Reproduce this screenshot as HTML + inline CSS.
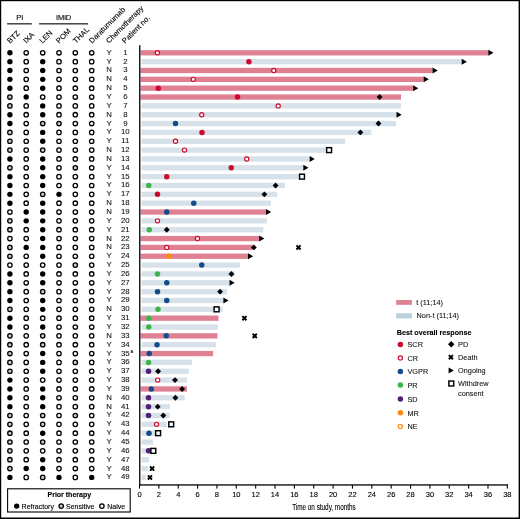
<!DOCTYPE html>
<html><head><meta charset="utf-8"><style>
html,body{margin:0;padding:0;background:#fff;}
svg{display:block;will-change:transform;}
text{font-family:"Liberation Sans", sans-serif;fill:#000;stroke:#000;stroke-width:0.12px;}
text.lt{fill:#111;stroke:#111;stroke-width:0.08px;}
</style></head><body>
<svg width="520" height="519" viewBox="0 0 520 519">
<rect width="520" height="519" fill="#fff"/>
<rect x="0" y="0" width="520" height="1.2" fill="#000"/>
<rect x="0" y="0" width="1.2" height="519" fill="#000"/>
<rect x="518.6" y="0" width="1.4" height="519" fill="#000"/>
<rect x="0" y="517.5" width="520" height="1.5" fill="#000"/>
<text x="19.90" y="20.40" font-size="7.5" text-anchor="middle" font-weight="normal" >PI</text>
<text x="63.60" y="20.40" font-size="7.5" text-anchor="middle" font-weight="normal" >IMiD</text>
<rect x="7.1" y="23.3" width="24.7" height="1.1" fill="#000"/>
<rect x="39.1" y="23.3" width="48.9" height="1.1" fill="#000"/>
<text x="0" y="0" font-size="7.5" transform="translate(10.10,43.7) rotate(-45)">BTZ</text>
<text x="0" y="0" font-size="7.5" transform="translate(26.30,43.7) rotate(-45)">IXA</text>
<text x="0" y="0" font-size="7.5" transform="translate(42.50,43.7) rotate(-45)">LEN</text>
<text x="0" y="0" font-size="7.5" transform="translate(59.10,43.7) rotate(-45)">POM</text>
<text x="0" y="0" font-size="7.5" transform="translate(76.10,43.7) rotate(-45)">THAL</text>
<text x="0" y="0" font-size="7.5" transform="translate(92.10,43.7) rotate(-45)">Daratumumab</text>
<text x="0" y="0" font-size="7.5" transform="translate(109.10,43.7) rotate(-45)">Chemotherapy</text>
<text x="0" y="0" font-size="7.5" transform="translate(125.10,43.7) rotate(-45)">Patient no.</text>
<circle cx="9.90" cy="52.80" r="2.7" fill="#000"/>
<circle cx="26.20" cy="52.80" r="2.2" fill="#fff" stroke="#000" stroke-width="1.3"/>
<circle cx="42.70" cy="52.80" r="2.2" fill="#fff" stroke="#000" stroke-width="1.3"/>
<circle cx="59.00" cy="52.80" r="2.2" fill="#fff" stroke="#000" stroke-width="1.3"/>
<circle cx="75.30" cy="52.80" r="2.2" fill="#fff" stroke="#000" stroke-width="1.3"/>
<circle cx="91.70" cy="52.80" r="2.2" fill="#fff" stroke="#000" stroke-width="1.3"/>
<text x="109.00" y="54.80" font-size="7.8" text-anchor="middle" font-weight="normal" class="lt">Y</text>
<text x="125.30" y="54.80" font-size="7.8" text-anchor="middle" font-weight="normal" class="lt">1</text>
<circle cx="9.90" cy="61.65" r="2.7" fill="#000"/>
<circle cx="26.20" cy="61.65" r="2.2" fill="#fff" stroke="#000" stroke-width="1.3"/>
<circle cx="42.70" cy="61.65" r="2.7" fill="#000"/>
<circle cx="59.00" cy="61.65" r="2.2" fill="#fff" stroke="#000" stroke-width="1.3"/>
<circle cx="75.30" cy="61.65" r="2.2" fill="#fff" stroke="#000" stroke-width="1.3"/>
<circle cx="91.70" cy="61.65" r="2.2" fill="#fff" stroke="#000" stroke-width="1.3"/>
<text x="109.00" y="63.65" font-size="7.8" text-anchor="middle" font-weight="normal" class="lt">Y</text>
<text x="125.30" y="63.65" font-size="7.8" text-anchor="middle" font-weight="normal" class="lt">2</text>
<circle cx="9.90" cy="70.49" r="2.7" fill="#000"/>
<circle cx="26.20" cy="70.49" r="2.2" fill="#fff" stroke="#000" stroke-width="1.3"/>
<circle cx="42.70" cy="70.49" r="2.7" fill="#000"/>
<circle cx="59.00" cy="70.49" r="2.2" fill="#fff" stroke="#000" stroke-width="1.3"/>
<circle cx="75.30" cy="70.49" r="2.2" fill="#fff" stroke="#000" stroke-width="1.3"/>
<circle cx="91.70" cy="70.49" r="2.2" fill="#fff" stroke="#000" stroke-width="1.3"/>
<text x="109.00" y="72.49" font-size="7.8" text-anchor="middle" font-weight="normal" class="lt">N</text>
<text x="125.30" y="72.49" font-size="7.8" text-anchor="middle" font-weight="normal" class="lt">3</text>
<circle cx="9.90" cy="79.34" r="2.7" fill="#000"/>
<circle cx="26.20" cy="79.34" r="2.2" fill="#fff" stroke="#000" stroke-width="1.3"/>
<circle cx="42.70" cy="79.34" r="2.7" fill="#000"/>
<circle cx="59.00" cy="79.34" r="2.2" fill="#fff" stroke="#000" stroke-width="1.3"/>
<circle cx="75.30" cy="79.34" r="2.2" fill="#fff" stroke="#000" stroke-width="1.3"/>
<circle cx="91.70" cy="79.34" r="2.2" fill="#fff" stroke="#000" stroke-width="1.3"/>
<text x="109.00" y="81.34" font-size="7.8" text-anchor="middle" font-weight="normal" class="lt">N</text>
<text x="125.30" y="81.34" font-size="7.8" text-anchor="middle" font-weight="normal" class="lt">4</text>
<circle cx="9.90" cy="88.18" r="2.7" fill="#000"/>
<circle cx="26.20" cy="88.18" r="2.2" fill="#fff" stroke="#000" stroke-width="1.3"/>
<circle cx="42.70" cy="88.18" r="2.7" fill="#000"/>
<circle cx="59.00" cy="88.18" r="2.2" fill="#fff" stroke="#000" stroke-width="1.3"/>
<circle cx="75.30" cy="88.18" r="2.2" fill="#fff" stroke="#000" stroke-width="1.3"/>
<circle cx="91.70" cy="88.18" r="2.2" fill="#fff" stroke="#000" stroke-width="1.3"/>
<text x="109.00" y="90.18" font-size="7.8" text-anchor="middle" font-weight="normal" class="lt">N</text>
<text x="125.30" y="90.18" font-size="7.8" text-anchor="middle" font-weight="normal" class="lt">5</text>
<circle cx="9.90" cy="97.03" r="2.2" fill="#c9c9cf" stroke="#000" stroke-width="1.3"/>
<circle cx="26.20" cy="97.03" r="2.7" fill="#000"/>
<circle cx="42.70" cy="97.03" r="2.2" fill="#fff" stroke="#000" stroke-width="1.3"/>
<circle cx="59.00" cy="97.03" r="2.2" fill="#fff" stroke="#000" stroke-width="1.3"/>
<circle cx="75.30" cy="97.03" r="2.2" fill="#fff" stroke="#000" stroke-width="1.3"/>
<circle cx="91.70" cy="97.03" r="2.2" fill="#fff" stroke="#000" stroke-width="1.3"/>
<text x="109.00" y="99.03" font-size="7.8" text-anchor="middle" font-weight="normal" class="lt">Y</text>
<text x="125.30" y="99.03" font-size="7.8" text-anchor="middle" font-weight="normal" class="lt">6</text>
<circle cx="9.90" cy="105.88" r="2.2" fill="#c9c9cf" stroke="#000" stroke-width="1.3"/>
<circle cx="26.20" cy="105.88" r="2.2" fill="#fff" stroke="#000" stroke-width="1.3"/>
<circle cx="42.70" cy="105.88" r="2.7" fill="#000"/>
<circle cx="59.00" cy="105.88" r="2.2" fill="#fff" stroke="#000" stroke-width="1.3"/>
<circle cx="75.30" cy="105.88" r="2.2" fill="#fff" stroke="#000" stroke-width="1.3"/>
<circle cx="91.70" cy="105.88" r="2.2" fill="#fff" stroke="#000" stroke-width="1.3"/>
<text x="109.00" y="107.88" font-size="7.8" text-anchor="middle" font-weight="normal" class="lt">Y</text>
<text x="125.30" y="107.88" font-size="7.8" text-anchor="middle" font-weight="normal" class="lt">7</text>
<circle cx="9.90" cy="114.72" r="2.7" fill="#000"/>
<circle cx="26.20" cy="114.72" r="2.2" fill="#fff" stroke="#000" stroke-width="1.3"/>
<circle cx="42.70" cy="114.72" r="2.7" fill="#000"/>
<circle cx="59.00" cy="114.72" r="2.2" fill="#fff" stroke="#000" stroke-width="1.3"/>
<circle cx="75.30" cy="114.72" r="2.2" fill="#fff" stroke="#000" stroke-width="1.3"/>
<circle cx="91.70" cy="114.72" r="2.2" fill="#fff" stroke="#000" stroke-width="1.3"/>
<text x="109.00" y="116.72" font-size="7.8" text-anchor="middle" font-weight="normal" class="lt">N</text>
<text x="125.30" y="116.72" font-size="7.8" text-anchor="middle" font-weight="normal" class="lt">8</text>
<circle cx="9.90" cy="123.57" r="2.7" fill="#000"/>
<circle cx="26.20" cy="123.57" r="2.2" fill="#fff" stroke="#000" stroke-width="1.3"/>
<circle cx="42.70" cy="123.57" r="2.2" fill="#c9c9cf" stroke="#000" stroke-width="1.3"/>
<circle cx="59.00" cy="123.57" r="2.2" fill="#c9c9cf" stroke="#000" stroke-width="1.3"/>
<circle cx="75.30" cy="123.57" r="2.2" fill="#fff" stroke="#000" stroke-width="1.3"/>
<circle cx="91.70" cy="123.57" r="2.2" fill="#fff" stroke="#000" stroke-width="1.3"/>
<text x="109.00" y="125.57" font-size="7.8" text-anchor="middle" font-weight="normal" class="lt">Y</text>
<text x="125.30" y="125.57" font-size="7.8" text-anchor="middle" font-weight="normal" class="lt">9</text>
<circle cx="9.90" cy="132.41" r="2.2" fill="#c9c9cf" stroke="#000" stroke-width="1.3"/>
<circle cx="26.20" cy="132.41" r="2.2" fill="#fff" stroke="#000" stroke-width="1.3"/>
<circle cx="42.70" cy="132.41" r="2.7" fill="#000"/>
<circle cx="59.00" cy="132.41" r="2.2" fill="#fff" stroke="#000" stroke-width="1.3"/>
<circle cx="75.30" cy="132.41" r="2.2" fill="#fff" stroke="#000" stroke-width="1.3"/>
<circle cx="91.70" cy="132.41" r="2.2" fill="#fff" stroke="#000" stroke-width="1.3"/>
<text x="109.00" y="134.41" font-size="7.8" text-anchor="middle" font-weight="normal" class="lt">Y</text>
<text x="125.30" y="134.41" font-size="7.8" text-anchor="middle" font-weight="normal" class="lt">10</text>
<circle cx="9.90" cy="141.26" r="2.2" fill="#c9c9cf" stroke="#000" stroke-width="1.3"/>
<circle cx="26.20" cy="141.26" r="2.2" fill="#fff" stroke="#000" stroke-width="1.3"/>
<circle cx="42.70" cy="141.26" r="2.7" fill="#000"/>
<circle cx="59.00" cy="141.26" r="2.2" fill="#fff" stroke="#000" stroke-width="1.3"/>
<circle cx="75.30" cy="141.26" r="2.2" fill="#fff" stroke="#000" stroke-width="1.3"/>
<circle cx="91.70" cy="141.26" r="2.2" fill="#fff" stroke="#000" stroke-width="1.3"/>
<text x="109.00" y="143.26" font-size="7.8" text-anchor="middle" font-weight="normal" class="lt">Y</text>
<text x="125.30" y="143.26" font-size="7.8" text-anchor="middle" font-weight="normal" class="lt">11</text>
<circle cx="9.90" cy="150.11" r="2.2" fill="#c9c9cf" stroke="#000" stroke-width="1.3"/>
<circle cx="26.20" cy="150.11" r="2.2" fill="#fff" stroke="#000" stroke-width="1.3"/>
<circle cx="42.70" cy="150.11" r="2.2" fill="#c9c9cf" stroke="#000" stroke-width="1.3"/>
<circle cx="59.00" cy="150.11" r="2.2" fill="#fff" stroke="#000" stroke-width="1.3"/>
<circle cx="75.30" cy="150.11" r="2.2" fill="#fff" stroke="#000" stroke-width="1.3"/>
<circle cx="91.70" cy="150.11" r="2.2" fill="#fff" stroke="#000" stroke-width="1.3"/>
<text x="109.00" y="152.11" font-size="7.8" text-anchor="middle" font-weight="normal" class="lt">N</text>
<text x="125.30" y="152.11" font-size="7.8" text-anchor="middle" font-weight="normal" class="lt">12</text>
<circle cx="9.90" cy="158.95" r="2.7" fill="#000"/>
<circle cx="26.20" cy="158.95" r="2.2" fill="#fff" stroke="#000" stroke-width="1.3"/>
<circle cx="42.70" cy="158.95" r="2.7" fill="#000"/>
<circle cx="59.00" cy="158.95" r="2.2" fill="#fff" stroke="#000" stroke-width="1.3"/>
<circle cx="75.30" cy="158.95" r="2.2" fill="#fff" stroke="#000" stroke-width="1.3"/>
<circle cx="91.70" cy="158.95" r="2.2" fill="#fff" stroke="#000" stroke-width="1.3"/>
<text x="109.00" y="160.95" font-size="7.8" text-anchor="middle" font-weight="normal" class="lt">N</text>
<text x="125.30" y="160.95" font-size="7.8" text-anchor="middle" font-weight="normal" class="lt">13</text>
<circle cx="9.90" cy="167.80" r="2.2" fill="#c9c9cf" stroke="#000" stroke-width="1.3"/>
<circle cx="26.20" cy="167.80" r="2.2" fill="#fff" stroke="#000" stroke-width="1.3"/>
<circle cx="42.70" cy="167.80" r="2.7" fill="#000"/>
<circle cx="59.00" cy="167.80" r="2.2" fill="#fff" stroke="#000" stroke-width="1.3"/>
<circle cx="75.30" cy="167.80" r="2.2" fill="#c9c9cf" stroke="#000" stroke-width="1.3"/>
<circle cx="91.70" cy="167.80" r="2.2" fill="#fff" stroke="#000" stroke-width="1.3"/>
<text x="109.00" y="169.80" font-size="7.8" text-anchor="middle" font-weight="normal" class="lt">Y</text>
<text x="125.30" y="169.80" font-size="7.8" text-anchor="middle" font-weight="normal" class="lt">14</text>
<circle cx="9.90" cy="176.64" r="2.7" fill="#000"/>
<circle cx="26.20" cy="176.64" r="2.2" fill="#fff" stroke="#000" stroke-width="1.3"/>
<circle cx="42.70" cy="176.64" r="2.7" fill="#000"/>
<circle cx="59.00" cy="176.64" r="2.2" fill="#fff" stroke="#000" stroke-width="1.3"/>
<circle cx="75.30" cy="176.64" r="2.2" fill="#fff" stroke="#000" stroke-width="1.3"/>
<circle cx="91.70" cy="176.64" r="2.2" fill="#fff" stroke="#000" stroke-width="1.3"/>
<text x="109.00" y="178.64" font-size="7.8" text-anchor="middle" font-weight="normal" class="lt">Y</text>
<text x="125.30" y="178.64" font-size="7.8" text-anchor="middle" font-weight="normal" class="lt">15</text>
<circle cx="9.90" cy="185.49" r="2.7" fill="#000"/>
<circle cx="26.20" cy="185.49" r="2.2" fill="#fff" stroke="#000" stroke-width="1.3"/>
<circle cx="42.70" cy="185.49" r="2.7" fill="#000"/>
<circle cx="59.00" cy="185.49" r="2.2" fill="#fff" stroke="#000" stroke-width="1.3"/>
<circle cx="75.30" cy="185.49" r="2.2" fill="#fff" stroke="#000" stroke-width="1.3"/>
<circle cx="91.70" cy="185.49" r="2.2" fill="#fff" stroke="#000" stroke-width="1.3"/>
<text x="109.00" y="187.49" font-size="7.8" text-anchor="middle" font-weight="normal" class="lt">Y</text>
<text x="125.30" y="187.49" font-size="7.8" text-anchor="middle" font-weight="normal" class="lt">16</text>
<circle cx="9.90" cy="194.34" r="2.7" fill="#000"/>
<circle cx="26.20" cy="194.34" r="2.2" fill="#fff" stroke="#000" stroke-width="1.3"/>
<circle cx="42.70" cy="194.34" r="2.2" fill="#c9c9cf" stroke="#000" stroke-width="1.3"/>
<circle cx="59.00" cy="194.34" r="2.7" fill="#000"/>
<circle cx="75.30" cy="194.34" r="2.2" fill="#fff" stroke="#000" stroke-width="1.3"/>
<circle cx="91.70" cy="194.34" r="2.2" fill="#fff" stroke="#000" stroke-width="1.3"/>
<text x="109.00" y="196.34" font-size="7.8" text-anchor="middle" font-weight="normal" class="lt">Y</text>
<text x="125.30" y="196.34" font-size="7.8" text-anchor="middle" font-weight="normal" class="lt">17</text>
<circle cx="9.90" cy="203.18" r="2.7" fill="#000"/>
<circle cx="26.20" cy="203.18" r="2.2" fill="#fff" stroke="#000" stroke-width="1.3"/>
<circle cx="42.70" cy="203.18" r="2.7" fill="#000"/>
<circle cx="59.00" cy="203.18" r="2.2" fill="#fff" stroke="#000" stroke-width="1.3"/>
<circle cx="75.30" cy="203.18" r="2.2" fill="#fff" stroke="#000" stroke-width="1.3"/>
<circle cx="91.70" cy="203.18" r="2.2" fill="#fff" stroke="#000" stroke-width="1.3"/>
<text x="109.00" y="205.18" font-size="7.8" text-anchor="middle" font-weight="normal" class="lt">N</text>
<text x="125.30" y="205.18" font-size="7.8" text-anchor="middle" font-weight="normal" class="lt">18</text>
<circle cx="9.90" cy="212.03" r="2.2" fill="#fff" stroke="#000" stroke-width="1.3"/>
<circle cx="26.20" cy="212.03" r="2.7" fill="#000"/>
<circle cx="42.70" cy="212.03" r="2.7" fill="#000"/>
<circle cx="59.00" cy="212.03" r="2.2" fill="#fff" stroke="#000" stroke-width="1.3"/>
<circle cx="75.30" cy="212.03" r="2.2" fill="#fff" stroke="#000" stroke-width="1.3"/>
<circle cx="91.70" cy="212.03" r="2.2" fill="#fff" stroke="#000" stroke-width="1.3"/>
<text x="109.00" y="214.03" font-size="7.8" text-anchor="middle" font-weight="normal" class="lt">N</text>
<text x="125.30" y="214.03" font-size="7.8" text-anchor="middle" font-weight="normal" class="lt">19</text>
<circle cx="9.90" cy="220.87" r="2.2" fill="#c9c9cf" stroke="#000" stroke-width="1.3"/>
<circle cx="26.20" cy="220.87" r="2.7" fill="#000"/>
<circle cx="42.70" cy="220.87" r="2.7" fill="#000"/>
<circle cx="59.00" cy="220.87" r="2.2" fill="#fff" stroke="#000" stroke-width="1.3"/>
<circle cx="75.30" cy="220.87" r="2.2" fill="#fff" stroke="#000" stroke-width="1.3"/>
<circle cx="91.70" cy="220.87" r="2.2" fill="#fff" stroke="#000" stroke-width="1.3"/>
<text x="109.00" y="222.87" font-size="7.8" text-anchor="middle" font-weight="normal" class="lt">Y</text>
<text x="125.30" y="222.87" font-size="7.8" text-anchor="middle" font-weight="normal" class="lt">20</text>
<circle cx="9.90" cy="229.72" r="2.2" fill="#c9c9cf" stroke="#000" stroke-width="1.3"/>
<circle cx="26.20" cy="229.72" r="2.2" fill="#fff" stroke="#000" stroke-width="1.3"/>
<circle cx="42.70" cy="229.72" r="2.7" fill="#000"/>
<circle cx="59.00" cy="229.72" r="2.2" fill="#fff" stroke="#000" stroke-width="1.3"/>
<circle cx="75.30" cy="229.72" r="2.2" fill="#fff" stroke="#000" stroke-width="1.3"/>
<circle cx="91.70" cy="229.72" r="2.2" fill="#fff" stroke="#000" stroke-width="1.3"/>
<text x="109.00" y="231.72" font-size="7.8" text-anchor="middle" font-weight="normal" class="lt">Y</text>
<text x="125.30" y="231.72" font-size="7.8" text-anchor="middle" font-weight="normal" class="lt">21</text>
<circle cx="9.90" cy="238.57" r="2.2" fill="#fff" stroke="#000" stroke-width="1.3"/>
<circle cx="26.20" cy="238.57" r="2.2" fill="#fff" stroke="#000" stroke-width="1.3"/>
<circle cx="42.70" cy="238.57" r="2.7" fill="#000"/>
<circle cx="59.00" cy="238.57" r="2.2" fill="#fff" stroke="#000" stroke-width="1.3"/>
<circle cx="75.30" cy="238.57" r="2.2" fill="#fff" stroke="#000" stroke-width="1.3"/>
<circle cx="91.70" cy="238.57" r="2.2" fill="#fff" stroke="#000" stroke-width="1.3"/>
<text x="109.00" y="240.57" font-size="7.8" text-anchor="middle" font-weight="normal" class="lt">N</text>
<text x="125.30" y="240.57" font-size="7.8" text-anchor="middle" font-weight="normal" class="lt">22</text>
<circle cx="9.90" cy="247.41" r="2.2" fill="#c9c9cf" stroke="#000" stroke-width="1.3"/>
<circle cx="26.20" cy="247.41" r="2.7" fill="#000"/>
<circle cx="42.70" cy="247.41" r="2.7" fill="#000"/>
<circle cx="59.00" cy="247.41" r="2.2" fill="#fff" stroke="#000" stroke-width="1.3"/>
<circle cx="75.30" cy="247.41" r="2.2" fill="#fff" stroke="#000" stroke-width="1.3"/>
<circle cx="91.70" cy="247.41" r="2.2" fill="#fff" stroke="#000" stroke-width="1.3"/>
<text x="109.00" y="249.41" font-size="7.8" text-anchor="middle" font-weight="normal" class="lt">N</text>
<text x="125.30" y="249.41" font-size="7.8" text-anchor="middle" font-weight="normal" class="lt">23</text>
<circle cx="9.90" cy="256.26" r="2.2" fill="#c9c9cf" stroke="#000" stroke-width="1.3"/>
<circle cx="26.20" cy="256.26" r="2.2" fill="#fff" stroke="#000" stroke-width="1.3"/>
<circle cx="42.70" cy="256.26" r="2.7" fill="#000"/>
<circle cx="59.00" cy="256.26" r="2.2" fill="#fff" stroke="#000" stroke-width="1.3"/>
<circle cx="75.30" cy="256.26" r="2.2" fill="#fff" stroke="#000" stroke-width="1.3"/>
<circle cx="91.70" cy="256.26" r="2.2" fill="#fff" stroke="#000" stroke-width="1.3"/>
<text x="109.00" y="258.26" font-size="7.8" text-anchor="middle" font-weight="normal" class="lt">Y</text>
<text x="125.30" y="258.26" font-size="7.8" text-anchor="middle" font-weight="normal" class="lt">24</text>
<circle cx="9.90" cy="265.10" r="2.2" fill="#fff" stroke="#000" stroke-width="1.3"/>
<circle cx="26.20" cy="265.10" r="2.2" fill="#fff" stroke="#000" stroke-width="1.3"/>
<circle cx="42.70" cy="265.10" r="2.2" fill="#fff" stroke="#000" stroke-width="1.3"/>
<circle cx="59.00" cy="265.10" r="2.2" fill="#fff" stroke="#000" stroke-width="1.3"/>
<circle cx="75.30" cy="265.10" r="2.2" fill="#c9c9cf" stroke="#000" stroke-width="1.3"/>
<circle cx="91.70" cy="265.10" r="2.2" fill="#fff" stroke="#000" stroke-width="1.3"/>
<text x="109.00" y="267.10" font-size="7.8" text-anchor="middle" font-weight="normal" class="lt">Y</text>
<text x="125.30" y="267.10" font-size="7.8" text-anchor="middle" font-weight="normal" class="lt">25</text>
<circle cx="9.90" cy="273.95" r="2.7" fill="#000"/>
<circle cx="26.20" cy="273.95" r="2.2" fill="#fff" stroke="#000" stroke-width="1.3"/>
<circle cx="42.70" cy="273.95" r="2.7" fill="#000"/>
<circle cx="59.00" cy="273.95" r="2.2" fill="#fff" stroke="#000" stroke-width="1.3"/>
<circle cx="75.30" cy="273.95" r="2.2" fill="#fff" stroke="#000" stroke-width="1.3"/>
<circle cx="91.70" cy="273.95" r="2.2" fill="#fff" stroke="#000" stroke-width="1.3"/>
<text x="109.00" y="275.95" font-size="7.8" text-anchor="middle" font-weight="normal" class="lt">Y</text>
<text x="125.30" y="275.95" font-size="7.8" text-anchor="middle" font-weight="normal" class="lt">26</text>
<circle cx="9.90" cy="282.80" r="2.7" fill="#000"/>
<circle cx="26.20" cy="282.80" r="2.2" fill="#fff" stroke="#000" stroke-width="1.3"/>
<circle cx="42.70" cy="282.80" r="2.7" fill="#000"/>
<circle cx="59.00" cy="282.80" r="2.2" fill="#fff" stroke="#000" stroke-width="1.3"/>
<circle cx="75.30" cy="282.80" r="2.2" fill="#fff" stroke="#000" stroke-width="1.3"/>
<circle cx="91.70" cy="282.80" r="2.2" fill="#fff" stroke="#000" stroke-width="1.3"/>
<text x="109.00" y="284.80" font-size="7.8" text-anchor="middle" font-weight="normal" class="lt">Y</text>
<text x="125.30" y="284.80" font-size="7.8" text-anchor="middle" font-weight="normal" class="lt">27</text>
<circle cx="9.90" cy="291.64" r="2.7" fill="#000"/>
<circle cx="26.20" cy="291.64" r="2.2" fill="#fff" stroke="#000" stroke-width="1.3"/>
<circle cx="42.70" cy="291.64" r="2.2" fill="#c9c9cf" stroke="#000" stroke-width="1.3"/>
<circle cx="59.00" cy="291.64" r="2.2" fill="#fff" stroke="#000" stroke-width="1.3"/>
<circle cx="75.30" cy="291.64" r="2.2" fill="#fff" stroke="#000" stroke-width="1.3"/>
<circle cx="91.70" cy="291.64" r="2.2" fill="#fff" stroke="#000" stroke-width="1.3"/>
<text x="109.00" y="293.64" font-size="7.8" text-anchor="middle" font-weight="normal" class="lt">Y</text>
<text x="125.30" y="293.64" font-size="7.8" text-anchor="middle" font-weight="normal" class="lt">28</text>
<circle cx="9.90" cy="300.49" r="2.7" fill="#000"/>
<circle cx="26.20" cy="300.49" r="2.2" fill="#fff" stroke="#000" stroke-width="1.3"/>
<circle cx="42.70" cy="300.49" r="2.7" fill="#000"/>
<circle cx="59.00" cy="300.49" r="2.2" fill="#fff" stroke="#000" stroke-width="1.3"/>
<circle cx="75.30" cy="300.49" r="2.2" fill="#fff" stroke="#000" stroke-width="1.3"/>
<circle cx="91.70" cy="300.49" r="2.2" fill="#fff" stroke="#000" stroke-width="1.3"/>
<text x="109.00" y="302.49" font-size="7.8" text-anchor="middle" font-weight="normal" class="lt">Y</text>
<text x="125.30" y="302.49" font-size="7.8" text-anchor="middle" font-weight="normal" class="lt">29</text>
<circle cx="9.90" cy="309.33" r="2.2" fill="#c9c9cf" stroke="#000" stroke-width="1.3"/>
<circle cx="26.20" cy="309.33" r="2.2" fill="#fff" stroke="#000" stroke-width="1.3"/>
<circle cx="42.70" cy="309.33" r="2.7" fill="#000"/>
<circle cx="59.00" cy="309.33" r="2.2" fill="#fff" stroke="#000" stroke-width="1.3"/>
<circle cx="75.30" cy="309.33" r="2.2" fill="#fff" stroke="#000" stroke-width="1.3"/>
<circle cx="91.70" cy="309.33" r="2.2" fill="#fff" stroke="#000" stroke-width="1.3"/>
<text x="109.00" y="311.33" font-size="7.8" text-anchor="middle" font-weight="normal" class="lt">N</text>
<text x="125.30" y="311.33" font-size="7.8" text-anchor="middle" font-weight="normal" class="lt">30</text>
<circle cx="9.90" cy="318.18" r="2.7" fill="#000"/>
<circle cx="26.20" cy="318.18" r="2.2" fill="#fff" stroke="#000" stroke-width="1.3"/>
<circle cx="42.70" cy="318.18" r="2.2" fill="#fff" stroke="#000" stroke-width="1.3"/>
<circle cx="59.00" cy="318.18" r="2.2" fill="#fff" stroke="#000" stroke-width="1.3"/>
<circle cx="75.30" cy="318.18" r="2.2" fill="#fff" stroke="#000" stroke-width="1.3"/>
<circle cx="91.70" cy="318.18" r="2.2" fill="#fff" stroke="#000" stroke-width="1.3"/>
<text x="109.00" y="320.18" font-size="7.8" text-anchor="middle" font-weight="normal" class="lt">Y</text>
<text x="125.30" y="320.18" font-size="7.8" text-anchor="middle" font-weight="normal" class="lt">31</text>
<circle cx="9.90" cy="327.03" r="2.7" fill="#000"/>
<circle cx="26.20" cy="327.03" r="2.2" fill="#fff" stroke="#000" stroke-width="1.3"/>
<circle cx="42.70" cy="327.03" r="2.7" fill="#000"/>
<circle cx="59.00" cy="327.03" r="2.2" fill="#fff" stroke="#000" stroke-width="1.3"/>
<circle cx="75.30" cy="327.03" r="2.2" fill="#fff" stroke="#000" stroke-width="1.3"/>
<circle cx="91.70" cy="327.03" r="2.2" fill="#fff" stroke="#000" stroke-width="1.3"/>
<text x="109.00" y="329.03" font-size="7.8" text-anchor="middle" font-weight="normal" class="lt">Y</text>
<text x="125.30" y="329.03" font-size="7.8" text-anchor="middle" font-weight="normal" class="lt">32</text>
<circle cx="9.90" cy="335.87" r="2.2" fill="#c9c9cf" stroke="#000" stroke-width="1.3"/>
<circle cx="26.20" cy="335.87" r="2.2" fill="#fff" stroke="#000" stroke-width="1.3"/>
<circle cx="42.70" cy="335.87" r="2.2" fill="#c9c9cf" stroke="#000" stroke-width="1.3"/>
<circle cx="59.00" cy="335.87" r="2.2" fill="#fff" stroke="#000" stroke-width="1.3"/>
<circle cx="75.30" cy="335.87" r="2.2" fill="#fff" stroke="#000" stroke-width="1.3"/>
<circle cx="91.70" cy="335.87" r="2.2" fill="#fff" stroke="#000" stroke-width="1.3"/>
<text x="109.00" y="337.87" font-size="7.8" text-anchor="middle" font-weight="normal" class="lt">N</text>
<text x="125.30" y="337.87" font-size="7.8" text-anchor="middle" font-weight="normal" class="lt">33</text>
<circle cx="9.90" cy="344.72" r="2.2" fill="#c9c9cf" stroke="#000" stroke-width="1.3"/>
<circle cx="26.20" cy="344.72" r="2.2" fill="#fff" stroke="#000" stroke-width="1.3"/>
<circle cx="42.70" cy="344.72" r="2.2" fill="#c9c9cf" stroke="#000" stroke-width="1.3"/>
<circle cx="59.00" cy="344.72" r="2.2" fill="#fff" stroke="#000" stroke-width="1.3"/>
<circle cx="75.30" cy="344.72" r="2.2" fill="#fff" stroke="#000" stroke-width="1.3"/>
<circle cx="91.70" cy="344.72" r="2.2" fill="#fff" stroke="#000" stroke-width="1.3"/>
<text x="109.00" y="346.72" font-size="7.8" text-anchor="middle" font-weight="normal" class="lt">Y</text>
<text x="125.30" y="346.72" font-size="7.8" text-anchor="middle" font-weight="normal" class="lt">34</text>
<circle cx="9.90" cy="353.56" r="2.2" fill="#c9c9cf" stroke="#000" stroke-width="1.3"/>
<circle cx="26.20" cy="353.56" r="2.2" fill="#fff" stroke="#000" stroke-width="1.3"/>
<circle cx="42.70" cy="353.56" r="2.7" fill="#000"/>
<circle cx="59.00" cy="353.56" r="2.2" fill="#fff" stroke="#000" stroke-width="1.3"/>
<circle cx="75.30" cy="353.56" r="2.2" fill="#fff" stroke="#000" stroke-width="1.3"/>
<circle cx="91.70" cy="353.56" r="2.2" fill="#fff" stroke="#000" stroke-width="1.3"/>
<text x="109.00" y="355.56" font-size="7.8" text-anchor="middle" font-weight="normal" class="lt">Y</text>
<text x="125.30" y="355.56" font-size="7.8" text-anchor="middle" font-weight="normal" class="lt">35</text>
<text x="130.40" y="352.56" font-size="4.6" text-anchor="start" font-weight="normal" >a</text>
<circle cx="9.90" cy="362.41" r="2.2" fill="#c9c9cf" stroke="#000" stroke-width="1.3"/>
<circle cx="26.20" cy="362.41" r="2.2" fill="#fff" stroke="#000" stroke-width="1.3"/>
<circle cx="42.70" cy="362.41" r="2.7" fill="#000"/>
<circle cx="59.00" cy="362.41" r="2.2" fill="#fff" stroke="#000" stroke-width="1.3"/>
<circle cx="75.30" cy="362.41" r="2.2" fill="#c9c9cf" stroke="#000" stroke-width="1.3"/>
<circle cx="91.70" cy="362.41" r="2.2" fill="#fff" stroke="#000" stroke-width="1.3"/>
<text x="109.00" y="364.41" font-size="7.8" text-anchor="middle" font-weight="normal" class="lt">Y</text>
<text x="125.30" y="364.41" font-size="7.8" text-anchor="middle" font-weight="normal" class="lt">36</text>
<circle cx="9.90" cy="371.26" r="2.2" fill="#c9c9cf" stroke="#000" stroke-width="1.3"/>
<circle cx="26.20" cy="371.26" r="2.2" fill="#fff" stroke="#000" stroke-width="1.3"/>
<circle cx="42.70" cy="371.26" r="2.7" fill="#000"/>
<circle cx="59.00" cy="371.26" r="2.2" fill="#fff" stroke="#000" stroke-width="1.3"/>
<circle cx="75.30" cy="371.26" r="2.2" fill="#fff" stroke="#000" stroke-width="1.3"/>
<circle cx="91.70" cy="371.26" r="2.2" fill="#fff" stroke="#000" stroke-width="1.3"/>
<text x="109.00" y="373.26" font-size="7.8" text-anchor="middle" font-weight="normal" class="lt">Y</text>
<text x="125.30" y="373.26" font-size="7.8" text-anchor="middle" font-weight="normal" class="lt">37</text>
<circle cx="9.90" cy="380.10" r="2.7" fill="#000"/>
<circle cx="26.20" cy="380.10" r="2.2" fill="#fff" stroke="#000" stroke-width="1.3"/>
<circle cx="42.70" cy="380.10" r="2.2" fill="#fff" stroke="#000" stroke-width="1.3"/>
<circle cx="59.00" cy="380.10" r="2.2" fill="#fff" stroke="#000" stroke-width="1.3"/>
<circle cx="75.30" cy="380.10" r="2.2" fill="#fff" stroke="#000" stroke-width="1.3"/>
<circle cx="91.70" cy="380.10" r="2.2" fill="#fff" stroke="#000" stroke-width="1.3"/>
<text x="109.00" y="382.10" font-size="7.8" text-anchor="middle" font-weight="normal" class="lt">Y</text>
<text x="125.30" y="382.10" font-size="7.8" text-anchor="middle" font-weight="normal" class="lt">38</text>
<circle cx="9.90" cy="388.95" r="2.7" fill="#000"/>
<circle cx="26.20" cy="388.95" r="2.2" fill="#fff" stroke="#000" stroke-width="1.3"/>
<circle cx="42.70" cy="388.95" r="2.7" fill="#000"/>
<circle cx="59.00" cy="388.95" r="2.2" fill="#fff" stroke="#000" stroke-width="1.3"/>
<circle cx="75.30" cy="388.95" r="2.2" fill="#fff" stroke="#000" stroke-width="1.3"/>
<circle cx="91.70" cy="388.95" r="2.2" fill="#fff" stroke="#000" stroke-width="1.3"/>
<text x="109.00" y="390.95" font-size="7.8" text-anchor="middle" font-weight="normal" class="lt">Y</text>
<text x="125.30" y="390.95" font-size="7.8" text-anchor="middle" font-weight="normal" class="lt">39</text>
<circle cx="9.90" cy="397.79" r="2.7" fill="#000"/>
<circle cx="26.20" cy="397.79" r="2.2" fill="#fff" stroke="#000" stroke-width="1.3"/>
<circle cx="42.70" cy="397.79" r="2.7" fill="#000"/>
<circle cx="59.00" cy="397.79" r="2.2" fill="#fff" stroke="#000" stroke-width="1.3"/>
<circle cx="75.30" cy="397.79" r="2.2" fill="#fff" stroke="#000" stroke-width="1.3"/>
<circle cx="91.70" cy="397.79" r="2.2" fill="#fff" stroke="#000" stroke-width="1.3"/>
<text x="109.00" y="399.79" font-size="7.8" text-anchor="middle" font-weight="normal" class="lt">N</text>
<text x="125.30" y="399.79" font-size="7.8" text-anchor="middle" font-weight="normal" class="lt">40</text>
<circle cx="9.90" cy="406.64" r="2.7" fill="#000"/>
<circle cx="26.20" cy="406.64" r="2.2" fill="#fff" stroke="#000" stroke-width="1.3"/>
<circle cx="42.70" cy="406.64" r="2.7" fill="#000"/>
<circle cx="59.00" cy="406.64" r="2.2" fill="#fff" stroke="#000" stroke-width="1.3"/>
<circle cx="75.30" cy="406.64" r="2.2" fill="#fff" stroke="#000" stroke-width="1.3"/>
<circle cx="91.70" cy="406.64" r="2.2" fill="#fff" stroke="#000" stroke-width="1.3"/>
<text x="109.00" y="408.64" font-size="7.8" text-anchor="middle" font-weight="normal" class="lt">N</text>
<text x="125.30" y="408.64" font-size="7.8" text-anchor="middle" font-weight="normal" class="lt">41</text>
<circle cx="9.90" cy="415.49" r="2.2" fill="#c9c9cf" stroke="#000" stroke-width="1.3"/>
<circle cx="26.20" cy="415.49" r="2.2" fill="#fff" stroke="#000" stroke-width="1.3"/>
<circle cx="42.70" cy="415.49" r="2.2" fill="#c9c9cf" stroke="#000" stroke-width="1.3"/>
<circle cx="59.00" cy="415.49" r="2.2" fill="#fff" stroke="#000" stroke-width="1.3"/>
<circle cx="75.30" cy="415.49" r="2.2" fill="#c9c9cf" stroke="#000" stroke-width="1.3"/>
<circle cx="91.70" cy="415.49" r="2.2" fill="#fff" stroke="#000" stroke-width="1.3"/>
<text x="109.00" y="417.49" font-size="7.8" text-anchor="middle" font-weight="normal" class="lt">Y</text>
<text x="125.30" y="417.49" font-size="7.8" text-anchor="middle" font-weight="normal" class="lt">42</text>
<circle cx="9.90" cy="424.33" r="2.2" fill="#c9c9cf" stroke="#000" stroke-width="1.3"/>
<circle cx="26.20" cy="424.33" r="2.2" fill="#fff" stroke="#000" stroke-width="1.3"/>
<circle cx="42.70" cy="424.33" r="2.2" fill="#c9c9cf" stroke="#000" stroke-width="1.3"/>
<circle cx="59.00" cy="424.33" r="2.2" fill="#fff" stroke="#000" stroke-width="1.3"/>
<circle cx="75.30" cy="424.33" r="2.2" fill="#fff" stroke="#000" stroke-width="1.3"/>
<circle cx="91.70" cy="424.33" r="2.2" fill="#fff" stroke="#000" stroke-width="1.3"/>
<text x="109.00" y="426.33" font-size="7.8" text-anchor="middle" font-weight="normal" class="lt">Y</text>
<text x="125.30" y="426.33" font-size="7.8" text-anchor="middle" font-weight="normal" class="lt">43</text>
<circle cx="9.90" cy="433.18" r="2.2" fill="#c9c9cf" stroke="#000" stroke-width="1.3"/>
<circle cx="26.20" cy="433.18" r="2.2" fill="#fff" stroke="#000" stroke-width="1.3"/>
<circle cx="42.70" cy="433.18" r="2.7" fill="#000"/>
<circle cx="59.00" cy="433.18" r="2.2" fill="#fff" stroke="#000" stroke-width="1.3"/>
<circle cx="75.30" cy="433.18" r="2.2" fill="#fff" stroke="#000" stroke-width="1.3"/>
<circle cx="91.70" cy="433.18" r="2.2" fill="#fff" stroke="#000" stroke-width="1.3"/>
<text x="109.00" y="435.18" font-size="7.8" text-anchor="middle" font-weight="normal" class="lt">Y</text>
<text x="125.30" y="435.18" font-size="7.8" text-anchor="middle" font-weight="normal" class="lt">44</text>
<circle cx="9.90" cy="442.02" r="2.2" fill="#c9c9cf" stroke="#000" stroke-width="1.3"/>
<circle cx="26.20" cy="442.02" r="2.2" fill="#fff" stroke="#000" stroke-width="1.3"/>
<circle cx="42.70" cy="442.02" r="2.2" fill="#c9c9cf" stroke="#000" stroke-width="1.3"/>
<circle cx="59.00" cy="442.02" r="2.2" fill="#fff" stroke="#000" stroke-width="1.3"/>
<circle cx="75.30" cy="442.02" r="2.2" fill="#fff" stroke="#000" stroke-width="1.3"/>
<circle cx="91.70" cy="442.02" r="2.2" fill="#fff" stroke="#000" stroke-width="1.3"/>
<text x="109.00" y="444.02" font-size="7.8" text-anchor="middle" font-weight="normal" class="lt">Y</text>
<text x="125.30" y="444.02" font-size="7.8" text-anchor="middle" font-weight="normal" class="lt">45</text>
<circle cx="9.90" cy="450.87" r="2.2" fill="#c9c9cf" stroke="#000" stroke-width="1.3"/>
<circle cx="26.20" cy="450.87" r="2.2" fill="#fff" stroke="#000" stroke-width="1.3"/>
<circle cx="42.70" cy="450.87" r="2.2" fill="#fff" stroke="#000" stroke-width="1.3"/>
<circle cx="59.00" cy="450.87" r="2.2" fill="#fff" stroke="#000" stroke-width="1.3"/>
<circle cx="75.30" cy="450.87" r="2.2" fill="#fff" stroke="#000" stroke-width="1.3"/>
<circle cx="91.70" cy="450.87" r="2.2" fill="#fff" stroke="#000" stroke-width="1.3"/>
<text x="109.00" y="452.87" font-size="7.8" text-anchor="middle" font-weight="normal" class="lt">Y</text>
<text x="125.30" y="452.87" font-size="7.8" text-anchor="middle" font-weight="normal" class="lt">46</text>
<circle cx="9.90" cy="459.72" r="2.2" fill="#c9c9cf" stroke="#000" stroke-width="1.3"/>
<circle cx="26.20" cy="459.72" r="2.2" fill="#fff" stroke="#000" stroke-width="1.3"/>
<circle cx="42.70" cy="459.72" r="2.7" fill="#000"/>
<circle cx="59.00" cy="459.72" r="2.2" fill="#fff" stroke="#000" stroke-width="1.3"/>
<circle cx="75.30" cy="459.72" r="2.2" fill="#fff" stroke="#000" stroke-width="1.3"/>
<circle cx="91.70" cy="459.72" r="2.2" fill="#fff" stroke="#000" stroke-width="1.3"/>
<text x="109.00" y="461.72" font-size="7.8" text-anchor="middle" font-weight="normal" class="lt">Y</text>
<text x="125.30" y="461.72" font-size="7.8" text-anchor="middle" font-weight="normal" class="lt">47</text>
<circle cx="9.90" cy="468.56" r="2.2" fill="#c9c9cf" stroke="#000" stroke-width="1.3"/>
<circle cx="26.20" cy="468.56" r="2.7" fill="#000"/>
<circle cx="42.70" cy="468.56" r="2.7" fill="#000"/>
<circle cx="59.00" cy="468.56" r="2.2" fill="#fff" stroke="#000" stroke-width="1.3"/>
<circle cx="75.30" cy="468.56" r="2.2" fill="#fff" stroke="#000" stroke-width="1.3"/>
<circle cx="91.70" cy="468.56" r="2.2" fill="#fff" stroke="#000" stroke-width="1.3"/>
<text x="109.00" y="470.56" font-size="7.8" text-anchor="middle" font-weight="normal" class="lt">Y</text>
<text x="125.30" y="470.56" font-size="7.8" text-anchor="middle" font-weight="normal" class="lt">48</text>
<circle cx="9.90" cy="477.41" r="2.7" fill="#000"/>
<circle cx="26.20" cy="477.41" r="2.2" fill="#fff" stroke="#000" stroke-width="1.3"/>
<circle cx="42.70" cy="477.41" r="2.2" fill="#c9c9cf" stroke="#000" stroke-width="1.3"/>
<circle cx="59.00" cy="477.41" r="2.7" fill="#000"/>
<circle cx="75.30" cy="477.41" r="2.2" fill="#fff" stroke="#000" stroke-width="1.3"/>
<circle cx="91.70" cy="477.41" r="2.7" fill="#000"/>
<text x="109.00" y="479.41" font-size="7.8" text-anchor="middle" font-weight="normal" class="lt">Y</text>
<text x="125.30" y="479.41" font-size="7.8" text-anchor="middle" font-weight="normal" class="lt">49</text>
<rect x="140.5" y="50.15" width="347.80" height="5.3" fill="#df8192"/>
<rect x="141.6" y="59.00" width="320.10" height="5.3" fill="#d7e1e9"/>
<rect x="140.5" y="67.84" width="292.00" height="5.3" fill="#df8192"/>
<rect x="140.5" y="76.69" width="283.15" height="5.3" fill="#df8192"/>
<rect x="140.5" y="85.53" width="272.60" height="5.3" fill="#df8192"/>
<rect x="140.5" y="94.38" width="260.50" height="5.3" fill="#df8192"/>
<rect x="141.6" y="103.23" width="259.40" height="5.3" fill="#d7e1e9"/>
<rect x="141.6" y="112.07" width="254.90" height="5.3" fill="#d7e1e9"/>
<rect x="141.6" y="120.92" width="254.40" height="5.3" fill="#d7e1e9"/>
<rect x="141.6" y="129.76" width="229.90" height="5.3" fill="#d7e1e9"/>
<rect x="141.6" y="138.61" width="203.50" height="5.3" fill="#d7e1e9"/>
<rect x="141.6" y="147.46" width="184.30" height="5.3" fill="#d7e1e9"/>
<rect x="141.6" y="156.30" width="168.00" height="5.3" fill="#d7e1e9"/>
<rect x="141.6" y="165.15" width="161.70" height="5.3" fill="#d7e1e9"/>
<rect x="141.6" y="173.99" width="157.20" height="5.3" fill="#d7e1e9"/>
<rect x="141.6" y="182.84" width="143.40" height="5.3" fill="#d7e1e9"/>
<rect x="141.6" y="191.69" width="135.65" height="5.3" fill="#d7e1e9"/>
<rect x="141.6" y="200.53" width="129.40" height="5.3" fill="#d7e1e9"/>
<rect x="140.5" y="209.38" width="125.50" height="5.3" fill="#df8192"/>
<rect x="141.6" y="218.22" width="125.30" height="5.3" fill="#d7e1e9"/>
<rect x="141.6" y="227.07" width="121.60" height="5.3" fill="#d7e1e9"/>
<rect x="140.5" y="235.92" width="118.65" height="5.3" fill="#df8192"/>
<rect x="140.5" y="244.76" width="112.20" height="5.3" fill="#df8192"/>
<rect x="140.5" y="253.61" width="107.50" height="5.3" fill="#df8192"/>
<rect x="141.6" y="262.45" width="98.30" height="5.3" fill="#d7e1e9"/>
<rect x="141.6" y="271.30" width="93.10" height="5.3" fill="#d7e1e9"/>
<rect x="141.6" y="280.15" width="87.90" height="5.3" fill="#d7e1e9"/>
<rect x="141.6" y="288.99" width="85.30" height="5.3" fill="#d7e1e9"/>
<rect x="141.6" y="297.84" width="81.80" height="5.3" fill="#d7e1e9"/>
<rect x="141.6" y="306.68" width="81.10" height="5.3" fill="#d7e1e9"/>
<rect x="140.5" y="315.53" width="78.00" height="5.3" fill="#df8192"/>
<rect x="141.6" y="324.38" width="76.30" height="5.3" fill="#d7e1e9"/>
<rect x="140.5" y="333.22" width="77.00" height="5.3" fill="#df8192"/>
<rect x="141.6" y="342.07" width="74.30" height="5.3" fill="#d7e1e9"/>
<rect x="140.5" y="350.91" width="72.60" height="5.3" fill="#df8192"/>
<rect x="141.6" y="359.76" width="50.50" height="5.3" fill="#d7e1e9"/>
<rect x="141.6" y="368.61" width="47.20" height="5.3" fill="#d7e1e9"/>
<rect x="141.6" y="377.45" width="45.30" height="5.3" fill="#d7e1e9"/>
<rect x="140.5" y="386.30" width="46.40" height="5.3" fill="#df8192"/>
<rect x="141.6" y="395.14" width="43.00" height="5.3" fill="#d7e1e9"/>
<rect x="141.6" y="403.99" width="28.40" height="5.3" fill="#d7e1e9"/>
<rect x="141.6" y="412.84" width="28.00" height="5.3" fill="#d7e1e9"/>
<rect x="141.6" y="421.68" width="25.10" height="5.3" fill="#d7e1e9"/>
<rect x="141.6" y="430.53" width="13.40" height="5.3" fill="#d7e1e9"/>
<rect x="141.6" y="439.37" width="11.40" height="5.3" fill="#d7e1e9"/>
<rect x="141.6" y="448.22" width="9.30" height="5.3" fill="#d7e1e9"/>
<rect x="141.6" y="457.07" width="7.40" height="5.3" fill="#d7e1e9"/>
<rect x="141.6" y="465.91" width="6.20" height="5.3" fill="#d7e1e9"/>
<rect x="141.6" y="474.76" width="4.30" height="5.3" fill="#d7e1e9"/>
<circle cx="157.40" cy="52.80" r="2.1" fill="#fff" stroke="#cd0a2e" stroke-width="1.2"/>
<path d="M488.30 49.80L493.50 52.80L488.30 55.80Z" fill="#000"/>
<circle cx="248.90" cy="61.65" r="2.75" fill="#cd0a2e"/>
<path d="M461.70 58.65L466.90 61.65L461.70 64.65Z" fill="#000"/>
<circle cx="273.75" cy="70.49" r="2.1" fill="#fff" stroke="#cd0a2e" stroke-width="1.2"/>
<path d="M432.50 67.49L437.70 70.49L432.50 73.49Z" fill="#000"/>
<circle cx="193.25" cy="79.34" r="2.1" fill="#fff" stroke="#cd0a2e" stroke-width="1.2"/>
<path d="M423.65 76.34L428.85 79.34L423.65 82.34Z" fill="#000"/>
<circle cx="158.25" cy="88.18" r="2.75" fill="#cd0a2e"/>
<path d="M413.10 85.18L418.30 88.18L413.10 91.18Z" fill="#000"/>
<circle cx="237.50" cy="97.03" r="2.75" fill="#cd0a2e"/>
<path d="M379.60 94.08L382.55 97.03L379.60 99.98L376.65 97.03Z" fill="#000"/>
<circle cx="278.20" cy="105.88" r="2.1" fill="#fff" stroke="#cd0a2e" stroke-width="1.2"/>
<circle cx="201.75" cy="114.72" r="2.1" fill="#fff" stroke="#cd0a2e" stroke-width="1.2"/>
<path d="M396.50 111.72L401.70 114.72L396.50 117.72Z" fill="#000"/>
<circle cx="175.50" cy="123.57" r="2.75" fill="#124d8a"/>
<path d="M378.50 120.62L381.45 123.57L378.50 126.52L375.55 123.57Z" fill="#000"/>
<circle cx="202.00" cy="132.41" r="2.75" fill="#cd0a2e"/>
<path d="M360.40 129.46L363.35 132.41L360.40 135.36L357.45 132.41Z" fill="#000"/>
<circle cx="175.50" cy="141.26" r="2.1" fill="#fff" stroke="#cd0a2e" stroke-width="1.2"/>
<circle cx="184.50" cy="150.11" r="2.1" fill="#fff" stroke="#cd0a2e" stroke-width="1.2"/>
<rect x="326.65" y="147.66" width="4.9" height="4.9" fill="#fff" stroke="#000" stroke-width="1.45"/>
<circle cx="246.75" cy="158.95" r="2.1" fill="#fff" stroke="#cd0a2e" stroke-width="1.2"/>
<path d="M309.60 155.95L314.80 158.95L309.60 161.95Z" fill="#000"/>
<circle cx="231.25" cy="167.80" r="2.75" fill="#cd0a2e"/>
<path d="M303.30 164.80L308.50 167.80L303.30 170.80Z" fill="#000"/>
<circle cx="166.75" cy="176.64" r="2.75" fill="#cd0a2e"/>
<rect x="299.55" y="174.19" width="4.9" height="4.9" fill="#fff" stroke="#000" stroke-width="1.45"/>
<circle cx="148.75" cy="185.49" r="2.75" fill="#3cb54a"/>
<path d="M275.60 182.54L278.55 185.49L275.60 188.44L272.65 185.49Z" fill="#000"/>
<circle cx="157.50" cy="194.34" r="2.75" fill="#cd0a2e"/>
<path d="M264.40 191.39L267.35 194.34L264.40 197.29L261.45 194.34Z" fill="#000"/>
<circle cx="193.75" cy="203.18" r="2.75" fill="#124d8a"/>
<circle cx="166.75" cy="212.03" r="2.75" fill="#124d8a"/>
<path d="M266.00 209.03L271.20 212.03L266.00 215.03Z" fill="#000"/>
<circle cx="157.50" cy="220.87" r="2.1" fill="#fff" stroke="#cd0a2e" stroke-width="1.2"/>
<circle cx="149.25" cy="229.72" r="2.75" fill="#3cb54a"/>
<path d="M166.75 226.77L169.70 229.72L166.75 232.67L163.80 229.72Z" fill="#000"/>
<circle cx="197.50" cy="238.57" r="2.1" fill="#fff" stroke="#cd0a2e" stroke-width="1.2"/>
<path d="M259.15 235.57L264.35 238.57L259.15 241.57Z" fill="#000"/>
<circle cx="166.75" cy="247.41" r="2.1" fill="#fff" stroke="#cd0a2e" stroke-width="1.2"/>
<path d="M253.80 244.46L256.75 247.41L253.80 250.36L250.85 247.41Z" fill="#000"/>
<path d="M296.45 245.36L300.55 249.46M300.55 245.36L296.45 249.46" stroke="#000" stroke-width="2.0" stroke-linecap="butt"/>
<circle cx="168.75" cy="256.26" r="2.75" fill="#fa8c12"/>
<path d="M248.00 253.26L253.20 256.26L248.00 259.26Z" fill="#000"/>
<circle cx="201.75" cy="265.10" r="2.75" fill="#124d8a"/>
<circle cx="157.50" cy="273.95" r="2.75" fill="#3cb54a"/>
<path d="M231.40 271.00L234.35 273.95L231.40 276.90L228.45 273.95Z" fill="#000"/>
<circle cx="166.75" cy="282.80" r="2.75" fill="#124d8a"/>
<path d="M229.50 279.80L234.70 282.80L229.50 285.80Z" fill="#000"/>
<circle cx="157.50" cy="291.64" r="2.75" fill="#124d8a"/>
<path d="M220.10 288.69L223.05 291.64L220.10 294.59L217.15 291.64Z" fill="#000"/>
<circle cx="166.75" cy="300.49" r="2.75" fill="#124d8a"/>
<path d="M223.40 297.49L228.60 300.49L223.40 303.49Z" fill="#000"/>
<circle cx="158.00" cy="309.33" r="2.75" fill="#3cb54a"/>
<rect x="214.15" y="306.88" width="4.9" height="4.9" fill="#fff" stroke="#000" stroke-width="1.45"/>
<circle cx="148.75" cy="318.18" r="2.75" fill="#3cb54a"/>
<path d="M242.35 316.13L246.45 320.23M246.45 316.13L242.35 320.23" stroke="#000" stroke-width="2.0" stroke-linecap="butt"/>
<circle cx="148.75" cy="327.03" r="2.75" fill="#3cb54a"/>
<circle cx="166.25" cy="335.87" r="2.75" fill="#124d8a"/>
<path d="M252.70 333.82L256.80 337.92M256.80 333.82L252.70 337.92" stroke="#000" stroke-width="2.0" stroke-linecap="butt"/>
<circle cx="157.00" cy="344.72" r="2.75" fill="#124d8a"/>
<circle cx="149.25" cy="353.56" r="2.75" fill="#124d8a"/>
<circle cx="148.50" cy="362.41" r="2.75" fill="#3cb54a"/>
<circle cx="148.50" cy="371.26" r="2.75" fill="#521f78"/>
<path d="M158.10 368.31L161.05 371.26L158.10 374.21L155.15 371.26Z" fill="#000"/>
<circle cx="157.70" cy="380.10" r="2.1" fill="#fff" stroke="#cd0a2e" stroke-width="1.2"/>
<path d="M175.00 377.15L177.95 380.10L175.00 383.05L172.05 380.10Z" fill="#000"/>
<circle cx="151.30" cy="388.95" r="2.75" fill="#124d8a"/>
<path d="M182.10 386.00L185.05 388.95L182.10 391.90L179.15 388.95Z" fill="#000"/>
<circle cx="148.50" cy="397.79" r="2.75" fill="#521f78"/>
<path d="M175.40 394.84L178.35 397.79L175.40 400.74L172.45 397.79Z" fill="#000"/>
<circle cx="148.50" cy="406.64" r="2.75" fill="#521f78"/>
<path d="M157.70 403.69L160.65 406.64L157.70 409.59L154.75 406.64Z" fill="#000"/>
<circle cx="148.50" cy="415.49" r="2.75" fill="#521f78"/>
<path d="M163.30 412.54L166.25 415.49L163.30 418.44L160.35 415.49Z" fill="#000"/>
<circle cx="156.50" cy="424.33" r="2.1" fill="#fff" stroke="#cd0a2e" stroke-width="1.2"/>
<rect x="168.75" y="421.88" width="4.9" height="4.9" fill="#fff" stroke="#000" stroke-width="1.45"/>
<circle cx="149.00" cy="433.18" r="2.75" fill="#124d8a"/>
<rect x="155.65" y="430.73" width="4.9" height="4.9" fill="#fff" stroke="#000" stroke-width="1.45"/>
<circle cx="148.50" cy="450.87" r="2.75" fill="#521f78"/>
<rect x="150.85" y="448.42" width="4.9" height="4.9" fill="#fff" stroke="#000" stroke-width="1.45"/>
<path d="M150.05 466.51L154.15 470.61M154.15 466.51L150.05 470.61" stroke="#000" stroke-width="2.0" stroke-linecap="butt"/>
<path d="M147.85 475.36L151.95 479.46M151.95 475.36L147.85 479.46" stroke="#000" stroke-width="2.0" stroke-linecap="butt"/>
<rect x="139.1" y="45.2" width="1.3" height="440.4" fill="#000"/>
<rect x="139.1" y="484.3" width="368.9" height="1.3" fill="#000"/>
<rect x="138.95" y="485.0" width="1.1" height="3.6" fill="#000"/>
<text x="139.50" y="497.40" font-size="7.5" text-anchor="middle" font-weight="normal" >0</text>
<rect x="158.31" y="485.0" width="1.1" height="3.6" fill="#000"/>
<text x="158.86" y="497.40" font-size="7.5" text-anchor="middle" font-weight="normal" >2</text>
<rect x="177.67" y="485.0" width="1.1" height="3.6" fill="#000"/>
<text x="178.22" y="497.40" font-size="7.5" text-anchor="middle" font-weight="normal" >4</text>
<rect x="197.03" y="485.0" width="1.1" height="3.6" fill="#000"/>
<text x="197.58" y="497.40" font-size="7.5" text-anchor="middle" font-weight="normal" >6</text>
<rect x="216.39" y="485.0" width="1.1" height="3.6" fill="#000"/>
<text x="216.94" y="497.40" font-size="7.5" text-anchor="middle" font-weight="normal" >8</text>
<rect x="235.75" y="485.0" width="1.1" height="3.6" fill="#000"/>
<text x="236.30" y="497.40" font-size="7.5" text-anchor="middle" font-weight="normal" >10</text>
<rect x="255.11" y="485.0" width="1.1" height="3.6" fill="#000"/>
<text x="255.66" y="497.40" font-size="7.5" text-anchor="middle" font-weight="normal" >12</text>
<rect x="274.47" y="485.0" width="1.1" height="3.6" fill="#000"/>
<text x="275.02" y="497.40" font-size="7.5" text-anchor="middle" font-weight="normal" >14</text>
<rect x="293.83" y="485.0" width="1.1" height="3.6" fill="#000"/>
<text x="294.38" y="497.40" font-size="7.5" text-anchor="middle" font-weight="normal" >16</text>
<rect x="313.19" y="485.0" width="1.1" height="3.6" fill="#000"/>
<text x="313.74" y="497.40" font-size="7.5" text-anchor="middle" font-weight="normal" >18</text>
<rect x="332.55" y="485.0" width="1.1" height="3.6" fill="#000"/>
<text x="333.10" y="497.40" font-size="7.5" text-anchor="middle" font-weight="normal" >20</text>
<rect x="351.91" y="485.0" width="1.1" height="3.6" fill="#000"/>
<text x="352.46" y="497.40" font-size="7.5" text-anchor="middle" font-weight="normal" >22</text>
<rect x="371.27" y="485.0" width="1.1" height="3.6" fill="#000"/>
<text x="371.82" y="497.40" font-size="7.5" text-anchor="middle" font-weight="normal" >24</text>
<rect x="390.63" y="485.0" width="1.1" height="3.6" fill="#000"/>
<text x="391.18" y="497.40" font-size="7.5" text-anchor="middle" font-weight="normal" >26</text>
<rect x="409.99" y="485.0" width="1.1" height="3.6" fill="#000"/>
<text x="410.54" y="497.40" font-size="7.5" text-anchor="middle" font-weight="normal" >28</text>
<rect x="429.35" y="485.0" width="1.1" height="3.6" fill="#000"/>
<text x="429.90" y="497.40" font-size="7.5" text-anchor="middle" font-weight="normal" >30</text>
<rect x="448.71" y="485.0" width="1.1" height="3.6" fill="#000"/>
<text x="449.26" y="497.40" font-size="7.5" text-anchor="middle" font-weight="normal" >32</text>
<rect x="468.07" y="485.0" width="1.1" height="3.6" fill="#000"/>
<text x="468.62" y="497.40" font-size="7.5" text-anchor="middle" font-weight="normal" >34</text>
<rect x="487.43" y="485.0" width="1.1" height="3.6" fill="#000"/>
<text x="487.98" y="497.40" font-size="7.5" text-anchor="middle" font-weight="normal" >36</text>
<rect x="506.79" y="485.0" width="1.1" height="3.6" fill="#000"/>
<text x="507.34" y="497.40" font-size="7.5" text-anchor="middle" font-weight="normal" >38</text>
<text x="292.20" y="510.20" font-size="9.3" text-anchor="start" font-weight="normal" textLength="63.5" lengthAdjust="spacingAndGlyphs">Time on study, months</text>
<rect x="396.2" y="300" width="15.7" height="4.8" fill="#de8191"/>
<rect x="396.2" y="313.2" width="15.7" height="5.2" fill="#bccfdd"/>
<text x="416.30" y="304.80" font-size="7.3" text-anchor="start" font-weight="normal" class="lt">t (11;14)</text>
<text x="416.60" y="318.30" font-size="7.3" text-anchor="start" font-weight="normal" class="lt">Non-t (11;14)</text>
<text x="396.80" y="334.80" font-size="7.2" text-anchor="start" font-weight="bold" >Best overall response</text>
<circle cx="400.40" cy="344.40" r="2.75" fill="#cd0a2e"/>
<text x="407.50" y="347.30" font-size="7.3" text-anchor="start" font-weight="normal" class="lt">SCR</text>
<circle cx="400.40" cy="357.90" r="2.1" fill="#fff" stroke="#cd0a2e" stroke-width="1.2"/>
<text x="407.50" y="360.80" font-size="7.3" text-anchor="start" font-weight="normal" class="lt">CR</text>
<circle cx="400.40" cy="371.40" r="2.75" fill="#124d8a"/>
<text x="407.50" y="374.30" font-size="7.3" text-anchor="start" font-weight="normal" class="lt">VGPR</text>
<circle cx="400.40" cy="385.10" r="2.75" fill="#3cb54a"/>
<text x="407.50" y="388.00" font-size="7.3" text-anchor="start" font-weight="normal" class="lt">PR</text>
<circle cx="400.40" cy="399.00" r="2.75" fill="#521f78"/>
<text x="407.50" y="401.90" font-size="7.3" text-anchor="start" font-weight="normal" class="lt">SD</text>
<circle cx="400.40" cy="412.80" r="2.75" fill="#fa8c12"/>
<text x="407.50" y="415.70" font-size="7.3" text-anchor="start" font-weight="normal" class="lt">MR</text>
<circle cx="400.40" cy="426.40" r="2.1" fill="#fff" stroke="#fa8c12" stroke-width="1.2"/>
<text x="407.50" y="429.30" font-size="7.3" text-anchor="start" font-weight="normal" class="lt">NE</text>
<path d="M451.20 341.00L454.40 344.20L451.20 347.40L448.00 344.20Z" fill="#000"/>
<text x="458.10" y="347.20" font-size="7.3" text-anchor="start" font-weight="normal" class="lt">PD</text>
<path d="M448.85 355.15L452.95 359.25M452.95 355.15L448.85 359.25" stroke="#000" stroke-width="2.0" stroke-linecap="butt"/>
<text x="458.10" y="360.00" font-size="7.3" text-anchor="start" font-weight="normal" class="lt">Death</text>
<path d="M448.60 367.40L453.80 370.40L448.60 373.40Z" fill="#000"/>
<text x="458.10" y="373.20" font-size="7.3" text-anchor="start" font-weight="normal" class="lt">Ongoing</text>
<rect x="448.85" y="381.05" width="4.9" height="4.9" fill="#fff" stroke="#000" stroke-width="1.45"/>
<text x="458.10" y="386.00" font-size="7.3" text-anchor="start" font-weight="normal" class="lt">Withdrew</text>
<text x="458.10" y="396.10" font-size="7.3" text-anchor="start" font-weight="normal" class="lt">consent</text>
<rect x="7.6" y="488.8" width="122.6" height="23.2" fill="none" stroke="#000" stroke-width="1.1"/>
<text x="69.30" y="496.50" font-size="7" text-anchor="middle" font-weight="bold" >Prior therapy</text>
<circle cx="16.70" cy="506.10" r="2.7" fill="#000"/>
<text x="21.60" y="508.60" font-size="7" text-anchor="start" font-weight="normal" >Refractory</text>
<circle cx="61.20" cy="506.10" r="2.2" fill="#c9c9cf" stroke="#000" stroke-width="1.3"/>
<text x="66.00" y="508.60" font-size="7" text-anchor="start" font-weight="normal" >Sensitive</text>
<circle cx="101.90" cy="506.10" r="2.2" fill="#fff" stroke="#000" stroke-width="1.3"/>
<text x="107.20" y="508.60" font-size="7" text-anchor="start" font-weight="normal" >Naive</text>
</svg>
</body></html>
